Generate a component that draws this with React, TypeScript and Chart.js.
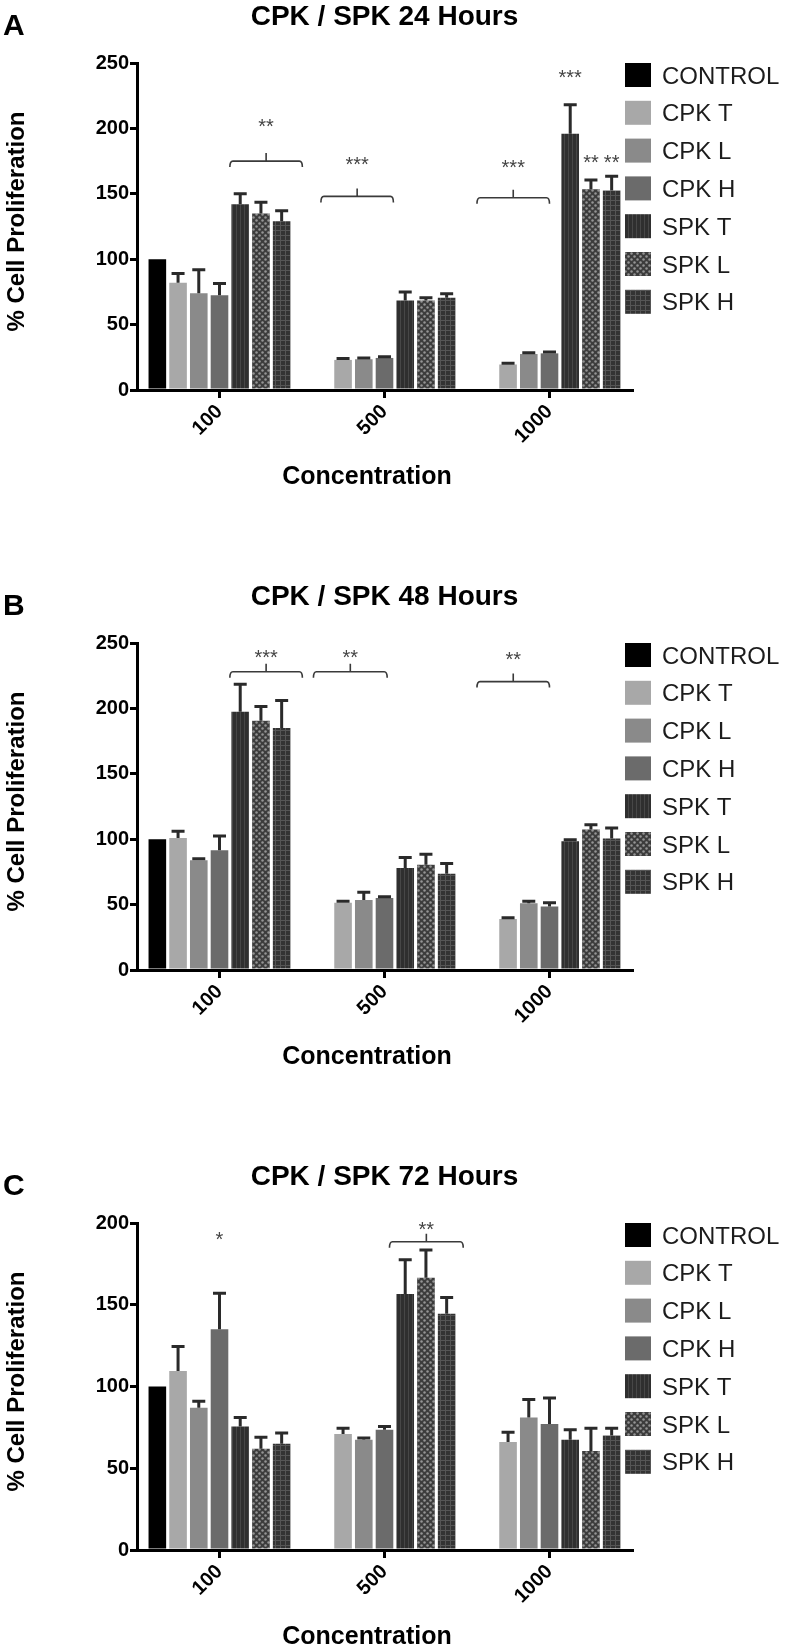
import React, { useEffect, useRef } from 'react';
import { Chart, registerables } from 'chart.js';

Chart.register(...registerables);

const FONT = '"Liberation Sans", Arial, Helvetica, sans-serif';

// ---------- data ----------
const concentrations = ['100', '500', '1000'];
const seriesNames = ['CONTROL', 'CPK T', 'CPK L', 'CPK H', 'SPK T', 'SPK L', 'SPK H'];

// 24 hours
const control24 = [100, null, null];
const cpkT24 = [82, 23, 19.5];
const cpkL24 = [74, 23.5, 27.5];
const cpkH24 = [72.5, 24.5, 28];
const spkT24 = [142, 68.5, 196];
const spkL24 = [135, 68.5, 153.5];
const spkH24 = [129, 70.5, 152.5];
const controlErr24 = [0, 0, 0];
const cpkTErr24 = [7, 1, 1];
const cpkLErr24 = [18, 1, 1];
const cpkHErr24 = [9, 1, 1];
const spkTErr24 = [8, 6.5, 22];
const spkLErr24 = [8.5, 2, 7];
const spkHErr24 = [8, 3, 11];

// 48 hours
const control48 = [100, null, null];
const cpkT48 = [101, 51.5, 39];
const cpkL48 = [84, 53.5, 51];
const cpkH48 = [91.5, 55, 48.5];
const spkT48 = [197.5, 78, 98.5];
const spkL48 = [190.5, 80.5, 107.5];
const spkH48 = [185, 73.5, 100.5];
const controlErr48 = [0, 0, 0];
const cpkTErr48 = [5, 1, 1];
const cpkLErr48 = [1, 6, 1.5];
const cpkHErr48 = [11, 1, 3];
const spkTErr48 = [21, 8, 1];
const spkLErr48 = [11, 8, 3.5];
const spkHErr48 = [21, 8, 8];

// 72 hours
const control72 = [100, null, null];
const cpkT72 = [109.5, 71, 66];
const cpkL72 = [87, 67.5, 81];
const cpkH72 = [135, 73.5, 77];
const spkT72 = [75.5, 156.5, 67.5];
const spkL72 = [62, 166.5, 60.5];
const spkH72 = [65, 144.5, 70];
const controlErr72 = [0, 0, 0];
const cpkTErr72 = [15, 3.5, 6];
const cpkLErr72 = [4, 1, 11];
const cpkHErr72 = [22, 2, 16];
const spkTErr72 = [5.5, 21, 6];
const spkLErr72 = [7, 17, 14];
const spkHErr72 = [6.5, 10, 4.5];

// significance brackets: category index, from/to in bar-slot units, y value of bracket and label
const brackets24 = [
  { cat: 0, from: 3.5, to: 7, y: 175, labelY: 205, text: '**' },
  { cat: 1, from: -0.07, to: 3.43, y: 148, labelY: 176, text: '***' },
  { cat: 2, from: -0.5, to: 3, y: 147, labelY: 174, text: '***' },
];
const marks24 = [
  { cat: 2, pos: 4, y: 243, text: '***' },
  { cat: 2, pos: 5, y: 178, text: '**' },
  { cat: 2, pos: 6, y: 178, text: '**' },
];
const brackets48 = [
  { cat: 0, from: 3.5, to: 7, y: 228, labelY: 243, text: '***' },
  { cat: 1, from: -0.43, to: 3.13, y: 228, labelY: 242.5, text: '**' },
  { cat: 2, from: -0.5, to: 3, y: 220.5, labelY: 241, text: '**' },
];
const marks48: any[] = [];
const brackets72 = [{ cat: 1, from: 3.24, to: 6.8, y: 188.5, labelY: 199, text: '**' }];
const marks72 = [{ cat: 0, pos: 3, y: 193, text: '*' }];

const yTicks250 = [0, 50, 100, 150, 200, 250];
const yTicks200 = [0, 50, 100, 150, 200];

const panels = [
  {
    letter: 'A', title: 'CPK / SPK 24 Hours', yMax: 250, yTicks: yTicks250, height: 580,
    values: [control24, cpkT24, cpkL24, cpkH24, spkT24, spkL24, spkH24],
    errors: [controlErr24, cpkTErr24, cpkLErr24, cpkHErr24, spkTErr24, spkLErr24, spkHErr24],
    brackets: brackets24, marks: marks24,
  },
  {
    letter: 'B', title: 'CPK / SPK 48 Hours', yMax: 250, yTicks: yTicks250, height: 580,
    values: [control48, cpkT48, cpkL48, cpkH48, spkT48, spkL48, spkH48],
    errors: [controlErr48, cpkTErr48, cpkLErr48, cpkHErr48, spkTErr48, spkLErr48, spkHErr48],
    brackets: brackets48, marks: marks48,
  },
  {
    letter: 'C', title: 'CPK / SPK 72 Hours', yMax: 200, yTicks: yTicks200, height: 486,
    values: [control72, cpkT72, cpkL72, cpkH72, spkT72, spkL72, spkH72],
    errors: [controlErr72, cpkTErr72, cpkLErr72, cpkHErr72, spkTErr72, spkLErr72, spkHErr72],
    brackets: brackets72, marks: marks72,
  },
];

// ---------- styling ----------
const CAT_PCT = 0.879;
const BAR_PCT = 0.85;
const W = 787;

function makePattern(kind: string): any {
  const c = document.createElement('canvas');
  const ctx = c.getContext('2d') as CanvasRenderingContext2D;
  if (kind === 'stripes') {
    c.width = 4; c.height = 4;
    ctx.fillStyle = '#2f2f2f'; ctx.fillRect(0, 0, 4, 4);
    ctx.fillStyle = '#474747'; ctx.fillRect(0, 0, 1, 4);
  } else if (kind === 'dots') {
    c.width = 6; c.height = 6;
    ctx.fillStyle = '#3c3c3c'; ctx.fillRect(0, 0, 6, 6);
    ctx.fillStyle = '#959595';
    ctx.beginPath(); ctx.arc(1.5, 1.5, 1.25, 0, Math.PI * 2); ctx.fill();
    ctx.beginPath(); ctx.arc(4.5, 4.5, 1.25, 0, Math.PI * 2); ctx.fill();
  } else {
    c.width = 5; c.height = 5;
    ctx.fillStyle = '#333333'; ctx.fillRect(0, 0, 5, 5);
    ctx.fillStyle = '#555555'; ctx.fillRect(0, 0, 5, 1); ctx.fillRect(0, 0, 1, 5);
  }
  return ctx.createPattern(c, 'repeat');
}

function makeDecor(panel: any, fills: any[]) {
  return {
    id: 'decor' + panel.letter,
    afterDatasetsDraw(chart: any) {
      const ctx = chart.ctx as CanvasRenderingContext2D;
      const yS = chart.scales.y;
      ctx.save();
      ctx.strokeStyle = '#2a2a2a';
      ctx.lineWidth = 3;
      chart.data.datasets.forEach((_ds: any, i: number) => {
        const meta = chart.getDatasetMeta(i);
        meta.data.forEach((bar: any, j: number) => {
          const v = panel.values[i][j];
          const e = panel.errors[i][j];
          if (v == null || !e) return;
          const top = yS.getPixelForValue(v);
          const ey = yS.getPixelForValue(v + e);
          ctx.beginPath();
          ctx.moveTo(bar.x, top);
          ctx.lineTo(bar.x, ey);
          ctx.moveTo(bar.x - 6.5, ey);
          ctx.lineTo(bar.x + 6.5, ey);
          ctx.stroke();
        });
      });
      ctx.restore();
    },
    afterDraw(chart: any) {
      const ctx = chart.ctx as CanvasRenderingContext2D;
      const area = chart.chartArea;
      const xS = chart.scales.x;
      const yS = chart.scales.y;
      const catW = (xS.right - xS.left) / concentrations.length;
      const slotW = (catW * CAT_PCT) / seriesNames.length;
      const slotX = (cat: number, pos: number) => xS.getPixelForValue(cat) + (pos - 3) * slotW;
      ctx.save();
      ctx.fillStyle = '#000';
      // panel letter
      ctx.font = `bold 30px ${FONT}`;
      ctx.textAlign = 'left';
      ctx.textBaseline = 'alphabetic';
      ctx.fillText(panel.letter, 3, 35);
      // title
      ctx.font = `bold 28px ${FONT}`;
      ctx.textAlign = 'center';
      ctx.fillText(panel.title, (area.left + area.right) / 2, 25);
      // x title
      ctx.font = `bold 25px ${FONT}`;
      ctx.fillText('Concentration', 367, area.bottom + 94);
      // y title
      ctx.save();
      ctx.translate(24, (area.top + area.bottom) / 2 - 5);
      ctx.rotate(-Math.PI / 2);
      ctx.font = `bold 24px ${FONT}`;
      ctx.textAlign = 'center';
      ctx.fillText('% Cell Proliferation', 0, 0);
      ctx.restore();
      // legend
      ctx.font = `24px ${FONT}`;
      ctx.textAlign = 'left';
      seriesNames.forEach((name, i) => {
        const cy = 75 + i * 37.8;
        ctx.fillStyle = fills[i];
        ctx.fillRect(625, cy - 12, 26, 24);
        ctx.fillStyle = '#1c1c1c';
        ctx.fillText(name, 662, cy + 8.6);
      });
      // brackets
      ctx.strokeStyle = '#3a3a3a';
      ctx.lineWidth = 1.6;
      ctx.fillStyle = '#444';
      ctx.font = `20px ${FONT}`;
      ctx.textAlign = 'center';
      panel.brackets.forEach((b: any) => {
        const x0 = slotX(b.cat, b.from);
        const x1 = slotX(b.cat, b.to);
        const y = yS.getPixelForValue(b.y);
        const xm = (x0 + x1) / 2;
        ctx.beginPath();
        ctx.moveTo(x0, y + 6);
        ctx.quadraticCurveTo(x0, y, x0 + 3, y);
        ctx.lineTo(x1 - 3, y);
        ctx.quadraticCurveTo(x1, y, x1, y + 6);
        ctx.moveTo(xm, y);
        ctx.lineTo(xm, y - 8);
        ctx.stroke();
        ctx.fillText(b.text, xm, yS.getPixelForValue(b.labelY) + 11.6);
      });
      panel.marks.forEach((m: any) => {
        ctx.fillText(m.text, slotX(m.cat, m.pos), yS.getPixelForValue(m.y) + 11.6);
      });
      ctx.restore();
    },
  };
}

function PanelChart({ panel }: { panel: any }) {
  const ref = useRef<HTMLCanvasElement | null>(null);
  useEffect(() => {
    const canvas = ref.current;
    if (!canvas) return;
    const fills = ['#000000', '#a8a8a8', '#8a8a8a', '#6b6b6b', makePattern('stripes'), makePattern('dots'), makePattern('grid')];
    const chart = new Chart(canvas, {
      type: 'bar',
      data: {
        labels: concentrations,
        datasets: seriesNames.map((name, i) => ({
          label: name,
          data: panel.values[i],
          backgroundColor: fills[i],
          borderWidth: 0,
          categoryPercentage: CAT_PCT,
          barPercentage: BAR_PCT,
        })),
      },
      options: {
        responsive: false,
        animation: false,
        devicePixelRatio: 1,
        layout: { padding: { left: 0, top: 63, right: W - 632, bottom: 0 } },
        plugins: { legend: { display: false }, tooltip: { enabled: false }, title: { display: false } },
        scales: {
          x: {
            type: 'category',
            offset: true,
            grid: { display: true, drawOnChartArea: false, drawTicks: true, tickLength: 8, offset: false, color: '#000', lineWidth: 3 },
            border: { display: true, color: '#000', width: 3 },
            ticks: { autoSkip: false, maxRotation: 45, minRotation: 45, padding: 2, color: '#000', font: { family: FONT, size: 20, weight: 'bold' } },
            afterFit: (s: any) => { s.height = panel.height - 390; },
          },
          y: {
            min: 0,
            max: panel.yMax,
            afterBuildTicks: (s: any) => { s.ticks = panel.yTicks.map((v: number) => ({ value: v })); },
            grid: { display: true, drawOnChartArea: false, drawTicks: true, tickLength: 7, color: '#000', lineWidth: 3 },
            border: { display: true, color: '#000', width: 3 },
            ticks: { padding: 1, color: '#000', font: { family: FONT, size: 20, weight: 'bold' } },
            afterFit: (s: any) => { s.width = 137; },
          },
        },
      } as any,
      plugins: [makeDecor(panel, fills)],
    });
    return () => chart.destroy();
  }, [panel]);
  return <canvas ref={ref} width={W} height={panel.height} style={{ display: 'block', width: W, height: panel.height }} />;
}

export default function App() {
  return (
    <div style={{ position: 'absolute', left: 0, top: 0, width: W, background: '#fff' }}>
      {panels.map((p) => (
        <PanelChart key={p.letter} panel={p} />
      ))}
    </div>
  );
}
